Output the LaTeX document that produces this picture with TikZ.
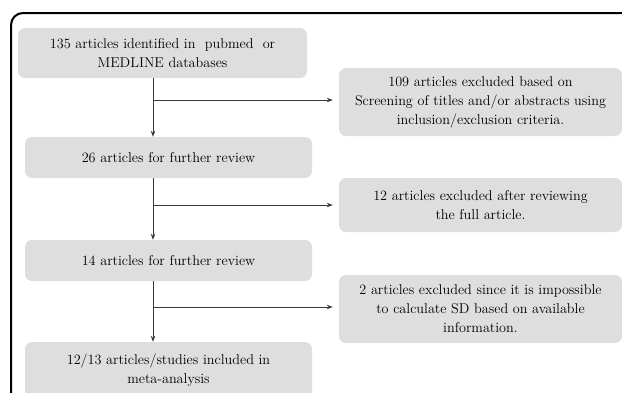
\documentclass[tikz,border=0pt]{standalone}
\usetikzlibrary{arrows.meta}
\definecolor{boxgray}{HTML}{DEDEDE}
\definecolor{linegray}{HTML}{3A3A3A}
\begin{document}
\begin{tikzpicture}[x=1pt,y=-1pt,
  box/.style={fill=boxgray, rounded corners=7pt, align=center, inner sep=0pt,
    font=\fontsize{14.2}{19}\selectfont},
  conn/.style={draw=linegray, line width=1pt},
  arr/.style={conn, -{Stealth[length=6pt,width=4.5pt]}}]
\useasboundingbox (0,0) rectangle (622,392);
\begin{scope}
\clip (0,0) rectangle (622,392);
\draw[line width=2pt, rounded corners=12pt] (11,420) -- (11,13) -- (650,13);
\node[box, minimum width=289pt, minimum height=50pt] (b1) at (162.5,53)
  {135 articles identified in\ \ pubmed\ \ or\\MEDLINE databases};
\node[box, minimum width=283pt, minimum height=68pt] (b2) at (480.5,102)
  {109 articles excluded based on\\Screening of titles and/or abstracts using\\inclusion/exclusion criteria.};
\node[box, minimum width=287pt, minimum height=41pt] (b3) at (168.5,157.5)
  {26 articles for further review};
\node[box, minimum width=283pt, minimum height=54pt] (b4) at (480.5,205)
  {12 articles excluded after reviewing\\the full article.};
\node[box, minimum width=287pt, minimum height=41pt] (b5) at (168.5,260.5)
  {14 articles for further review};
\node[box, minimum width=283pt, minimum height=68pt] (b6) at (480.5,309)
  {2 articles excluded since it is impossible\\to calculate SD based on available\\information.};
\node[box, minimum width=287pt, minimum height=56pt] (b7) at (168.5,370)
  {12/13 articles/studies included in\\meta-analysis};
\end{scope}
\coordinate (v) at (153,0);
\coordinate (j1) at (153,100);
\coordinate (j2) at (153,205);
\coordinate (j3) at (153,307);
\draw[arr] (b1.south -| v) -- (b3.north -| v);
\draw[arr] (b3.south -| v) -- (b5.north -| v);
\draw[arr] (b5.south -| v) -- (b7.north -| v);
\draw[arr, shorten >=6pt] (j1) -- (b2.west |- j1);
\draw[arr, shorten >=6pt] (j2) -- (b4.west |- j2);
\draw[arr, shorten >=6pt] (j3) -- (b6.west |- j3);
\end{tikzpicture}
\end{document}
